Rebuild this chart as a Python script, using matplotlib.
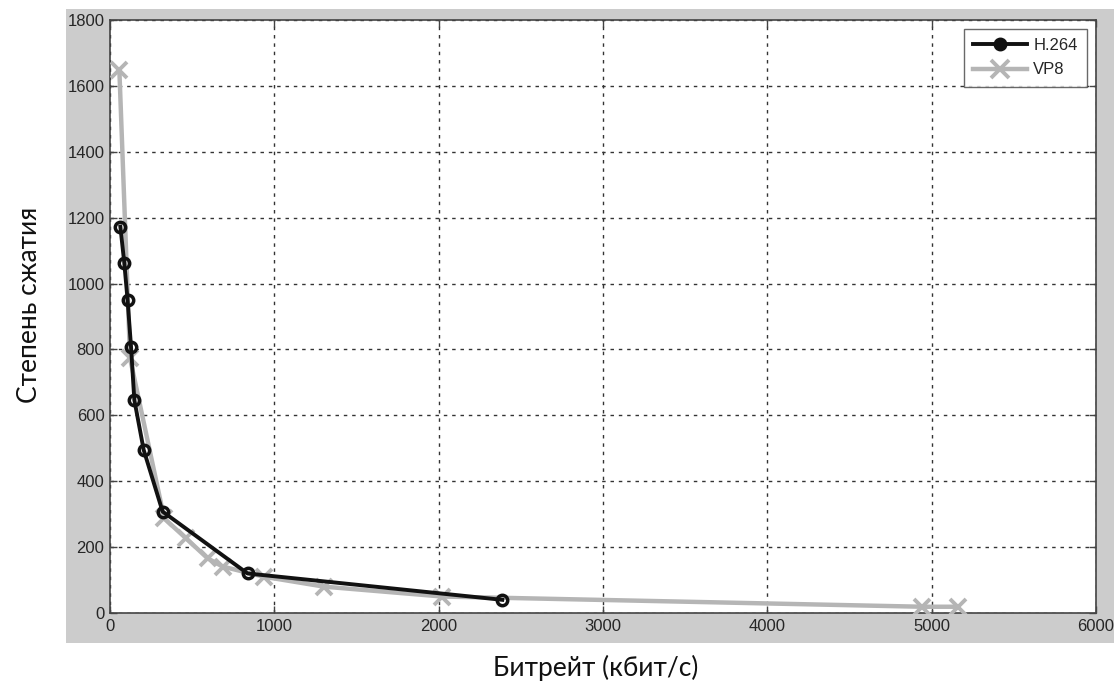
import matplotlib
matplotlib.use("Agg")
import matplotlib.pyplot as plt
from matplotlib.patches import Rectangle
from matplotlib.lines import Line2D

# Data
h264_x = [63, 87, 107, 128, 148, 205, 320, 837, 2387]
h264_y = [1173, 1062, 950, 808, 647, 495, 308, 120, 40]
vp8_x = [57, 122, 330, 462, 594, 685, 938, 1303, 2022, 4940, 5163]
vp8_y = [1648, 773, 287, 227, 166, 141, 110, 80, 50, 19, 19]
series_names = ["H.264", "VP8"]
xticks = [0, 1000, 2000, 3000, 4000, 5000, 6000]
yticks = [0, 200, 400, 600, 800, 1000, 1200, 1400, 1600, 1800]
xlabel = "Битрейт (кбит/с)"
ylabel = "Степень сжатия"

W, H = 1114, 692
fig = plt.figure(figsize=(W / 100, H / 100), dpi=100)
fig.patch.set_facecolor("white")

# MATLAB-like gray figure panel
bg = Rectangle((66 / W, 1 - 643 / H), 1 - 66 / W, (643 - 9) / H,
               transform=fig.transFigure, facecolor="#cccccc",
               edgecolor="none", zorder=-10)
fig.patches.append(bg)

ax = fig.add_axes([110 / W, 1 - 613 / H, (1096 - 110) / W, (613 - 20) / H])
ax.set_zorder(5)
ax.set_facecolor("white")
ax.set_xlim(0, 6000)
ax.set_ylim(0, 1800)
ax.set_xticks(xticks)
ax.set_yticks(yticks)
ax.set_xticklabels([str(t) for t in xticks])
ax.set_yticklabels([str(t) for t in yticks])

for lab in ax.get_xticklabels() + ax.get_yticklabels():
    lab.set_fontfamily("Liberation Sans")
    lab.set_fontsize(12)
    lab.set_color("#262626")

ax.tick_params(direction="in", length=5, width=1, color="#444444",
               top=True, right=True, pad=4)
for s in ax.spines.values():
    s.set_color("#444444")
    s.set_linewidth(1.2)

ax.grid(True, color="#333333", linestyle=(0, (2.5, 3.5)), linewidth=1.0)
ax.set_axisbelow(True)

ax.plot(vp8_x, vp8_y, color="#b5b5b5", linewidth=3.2, marker="x",
        markersize=12, markeredgewidth=2.8, zorder=3, label=series_names[1])
ax.plot(h264_x, h264_y, color="#111111", linewidth=2.8, marker="o",
        markersize=7.5, markeredgewidth=2.5, markerfacecolor="none",
        zorder=4, label=series_names[0])

handles = [
    Line2D([], [], color="#111111", linewidth=2.8, marker="o", markersize=7.5,
           markeredgewidth=2.5, markerfacecolor="#111111"),
    Line2D([], [], color="#b5b5b5", linewidth=3.2, marker="x", markersize=13,
           markeredgewidth=2.8),
]
leg = ax.legend(handles, series_names, loc="upper right",
                prop=dict(family="Liberation Sans", size=12),
                frameon=True, fancybox=False, edgecolor="#444444",
                handlelength=3.2, borderaxespad=0.55, labelspacing=0.55,
                handletextpad=0.4, borderpad=0.55)
leg.get_frame().set_linewidth(1.0)
for t in leg.get_texts():
    t.set_color("#262626")

fig.text(30 / W, 1 - 305 / H, ylabel, rotation=90, ha="center", va="center",
         fontsize=19, family="Lato", color="#111111")
fig.text(596 / W, 1 - 668 / H, xlabel, ha="center", va="center",
         fontsize=19, family="Lato", color="#111111")

fig.savefig("out.png", dpi=100, facecolor=fig.get_facecolor())
